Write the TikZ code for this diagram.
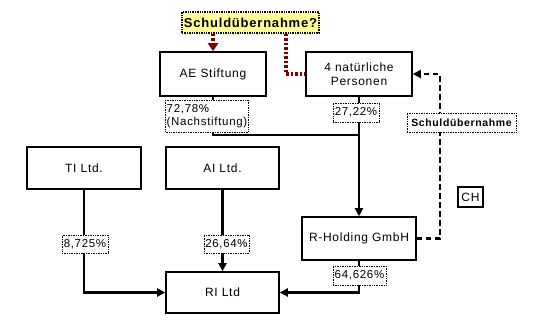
\documentclass[tikz,border=0pt]{standalone}
\usepackage{fontspec}
\usepackage{tikz}
\usetikzlibrary{arrows.meta, positioning, calc}
\newfontfamily\diafont[LetterSpace=6]{Liberation Sans}
\newfontfamily\diabold[LetterSpace=6]{Liberation Sans Bold}
\definecolor{claimred}{RGB}{128,0,0}
\definecolor{noteyellow}{RGB}{255,255,153}
\tikzset{
  entity/.style={rectangle, draw, line width=1.6pt, fill=white, minimum width=106pt, minimum height=44pt,
              font=\diafont\fontsize{12}{14}\selectfont, align=center, inner sep=1pt},
  pct/.style={rectangle, draw, densely dotted, line width=0.7pt, fill=white, inner sep=1pt,
              font=\diafont\fontsize{11.5}{13}\selectfont, align=left},
  note/.style={rectangle, draw, densely dotted, line width=1.4pt, fill=noteyellow, inner sep=1pt,
              minimum width=137pt, minimum height=21pt, font=\diabold\fontsize{13}{15}\selectfont},
  link/.style={line width=2.4pt, -{Triangle[length=8pt, width=8pt]}},
  debt/.style={line width=2.2pt, dash pattern=on 5.5pt off 3.5pt, -{Triangle[length=8pt, width=8pt]}},
  claim/.style={line width=3.2pt, claimred, dash pattern=on 2.5pt off 2pt},
}

\begin{document}
\begin{tikzpicture}[x=1pt, y=-1pt]
  \useasboundingbox (0,0) rectangle (536,324);
  % owners
  \node[entity] (ae)  at (213,74)  {AE Stiftung};
  \node[entity] (nat) at (359,74)  {4 natürliche\\Personen};
  \node[note]   (q)   at (250.5,22.5) {Schuldübernahme?};
  % companies
  \node[entity, minimum width=114pt, minimum height=42pt] (ti) at (84,168)    {TI Ltd.};
  \node[entity, minimum width=113pt, minimum height=42pt] (ai) at (222.5,168) {AI Ltd.};
  \node[entity, minimum width=113pt, minimum height=41pt] (ri) at (222.5,292.5) {RI Ltd};
  \node[entity, minimum width=114pt, minimum height=43pt] (rh) at (359,238.5) {R-Holding GmbH};
  \node[draw, line width=1.4pt, minimum width=25pt, minimum height=20pt, inner sep=1pt,
        font=\diafont\fontsize{12}{14}\selectfont] (ch) at (470.5,197) {CH};
  \coordinate (merge) at (359,135);

  % holdings
  \draw[link, -] (ae.south) |- (merge);
  \draw[link] (nat.south) -- (rh.north);
  \draw[link] (ti.south) |- (ri.west);
  \draw[link] (ai.south) -- (ri.north);
  \draw[link] (rh.south) |- (ri.east);
  \draw[debt] (rh.east) -- ++(23,0) |- (nat.east);
  \draw[claim, -{Triangle[length=8pt, width=10pt]}] (q.south -| ae.north) -- (ae.north);
  \draw[claim] ([xshift=35.5pt]q.south) |- (nat.west);

  % percentages
  \node[pct, minimum width=78pt, minimum height=32pt] (p1) at (207,116) {72,78\%\\(Nachstiftung)};
  \node[pct, minimum width=46pt, minimum height=19pt] (p2) at (356,112.5) {27,22\%};
  \node[pct, minimum width=46pt, minimum height=18pt] (p3) at (85,244) {8,725\%};
  \node[pct, minimum width=45pt, minimum height=18pt] (p4) at (226.5,244) {26,64\%};
  \node[pct, minimum width=53pt, minimum height=19pt] (p5) at (359.5,275.5) {64,626\%};
  \node[pct, minimum width=109pt, minimum height=19pt, font=\diabold\fontsize{10.5}{12}\selectfont] (su) at (461.5,122.5) {Schuldübernahme};
\end{tikzpicture}
\end{document}
